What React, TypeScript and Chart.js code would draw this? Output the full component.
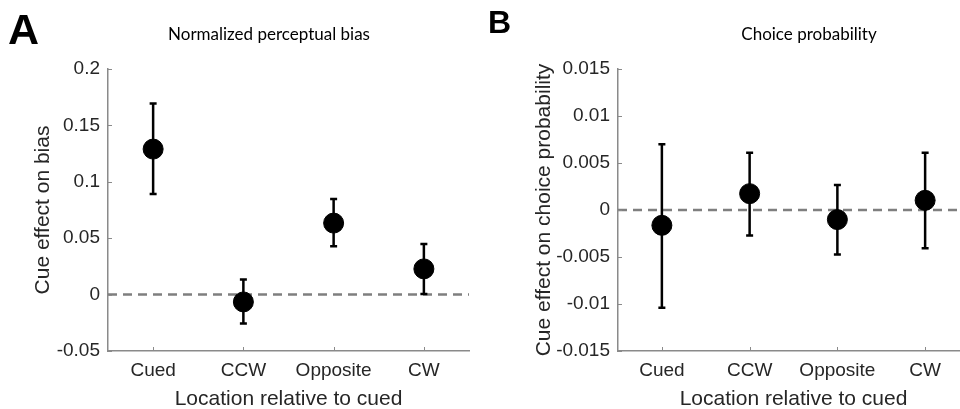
import React, { useEffect, useRef } from "react";
import { Chart, registerables } from "chart.js";

Chart.register(...registerables);

// Locations relative to the cued position
const locations = ["Cued", "CCW", "Opposite", "CW"];

// Panel A: cue effect on normalized perceptual bias (mean and error-bar ends)
const biasMean = [0.129, -0.0065, 0.0634, 0.0228];
const biasUpper = [0.1695, 0.0133, 0.0847, 0.0448];
const biasLower = [0.0892, -0.0257, 0.0428, 0.0005];
const biasTicks = [-0.05, 0, 0.05, 0.1, 0.15, 0.2];

// Panel B: cue effect on choice probability (mean and error-bar ends)
const cpMean = [-0.00163, 0.00174, -0.00102, 0.00103];
const cpUpper = [0.007, 0.0061, 0.00266, 0.0061];
const cpLower = [-0.0104, -0.00272, -0.00474, -0.00407];
const cpTicks = [-0.015, -0.01, -0.005, 0, 0.005, 0.01, 0.015];

const SANS = '"Liberation Sans", Arial, sans-serif';
const TITLE_FONT = 'Lato, "Open Sans", sans-serif';
const AXIS_COLOR = "#8a8a8a";
const TEXT_COLOR = "#262626";
const CANVAS_H = 412;

type Panel = {
  letter: string;
  letterSize: number;
  letterBaseline: number;
  title: string;
  titleX: number;
  yTitle: string;
  yTitlePad: number;
  yAxisWidth: number;
  padRight: number;
  width: number;
  left: number;
  mean: number[];
  upper: number[];
  lower: number[];
  ticks: number[];
};

const panels: Panel[] = [
  {
    letter: "A",
    letterSize: 43,
    letterBaseline: 43.5,
    title: "Normalized perceptual bias",
    titleX: 269,
    yTitle: "Cue effect on bias",
    yTitlePad: 31,
    yAxisWidth: 108,
    padRight: 7,
    width: 480,
    left: 0,
    mean: biasMean,
    upper: biasUpper,
    lower: biasLower,
    ticks: biasTicks,
  },
  {
    letter: "B",
    letterSize: 32,
    letterBaseline: 33,
    title: "Choice probability",
    titleX: 329,
    yTitle: "Cue effect on choice probability",
    yTitlePad: 52,
    yAxisWidth: 138,
    padRight: 8,
    width: 500,
    left: 480,
    mean: cpMean,
    upper: cpUpper,
    lower: cpLower,
    ticks: cpTicks,
  },
];

function decorations(p: Panel) {
  return {
    id: "panelDecorations",
    beforeDatasetsDraw(chart: any) {
      const { ctx, chartArea } = chart;
      const xs = chart.scales.x;
      const ys = chart.scales.y;
      ctx.save();
      // dashed zero reference line
      const y0 = ys.getPixelForValue(0);
      ctx.strokeStyle = "#7f7f7f";
      ctx.lineWidth = 2.5;
      ctx.setLineDash([9, 6]);
      ctx.beginPath();
      ctx.moveTo(chartArea.left, y0);
      ctx.lineTo(chartArea.right, y0);
      ctx.stroke();
      ctx.setLineDash([]);
      // error bars with caps
      ctx.strokeStyle = "#000";
      ctx.lineWidth = 2.5;
      p.mean.forEach((_, i) => {
        const x = xs.getPixelForValue(i);
        const yu = ys.getPixelForValue(p.upper[i]);
        const yl = ys.getPixelForValue(p.lower[i]);
        ctx.beginPath();
        ctx.moveTo(x, yu);
        ctx.lineTo(x, yl);
        ctx.moveTo(x - 3.5, yu);
        ctx.lineTo(x + 3.5, yu);
        ctx.moveTo(x - 3.5, yl);
        ctx.lineTo(x + 3.5, yl);
        ctx.stroke();
      });
      ctx.restore();
    },
    afterDraw(chart: any) {
      const { ctx, chartArea } = chart;
      const xs = chart.scales.x;
      const ys = chart.scales.y;
      ctx.save();
      // inward tick marks
      ctx.strokeStyle = AXIS_COLOR;
      ctx.lineWidth = 1;
      ctx.beginPath();
      p.ticks.forEach((v) => {
        const y = Math.round(ys.getPixelForValue(v)) + 0.5;
        ctx.moveTo(chartArea.left, y);
        ctx.lineTo(chartArea.left + 4, y);
      });
      locations.forEach((_, i) => {
        const x = Math.round(xs.getPixelForValue(i)) + 0.5;
        ctx.moveTo(x, chartArea.bottom);
        ctx.lineTo(x, chartArea.bottom - 4);
      });
      ctx.stroke();
      // panel letter and title
      ctx.fillStyle = "#000";
      ctx.textBaseline = "alphabetic";
      ctx.textAlign = "left";
      ctx.font = `bold ${p.letterSize}px ${SANS}`;
      ctx.fillText(p.letter, 8, p.letterBaseline);
      ctx.textAlign = "center";
      ctx.font = `17px ${TITLE_FONT}`;
      ctx.fillText(p.title, p.titleX, 39.5);
      ctx.restore();
    },
  };
}

function makeChart(canvas: HTMLCanvasElement, p: Panel) {
  return new Chart(canvas, {
    type: "line",
    data: {
      labels: locations,
      datasets: [
        {
          data: p.mean,
          showLine: false,
          pointRadius: 10,
          pointHoverRadius: 10,
          pointBackgroundColor: "#000",
          pointBorderColor: "#000",
          pointBorderWidth: 1,
        },
      ],
    },
    options: {
      responsive: false,
      animation: false,
      events: [],
      layout: { padding: { top: 69, right: p.padRight, bottom: 0, left: 0 } },
      plugins: {
        legend: { display: false },
        tooltip: { enabled: false },
        title: { display: false },
      },
      scales: {
        x: {
          type: "category",
          offset: true,
          grid: { display: false, drawTicks: false },
          border: { display: true, color: AXIS_COLOR, width: 1.5 },
          ticks: {
            color: TEXT_COLOR,
            font: { family: SANS, size: 19 },
            padding: 8,
            maxRotation: 0,
            autoSkip: false,
          },
          title: {
            display: true,
            text: "Location relative to cued",
            color: TEXT_COLOR,
            font: { family: SANS, size: 21 },
            padding: { top: 0, bottom: 0 },
          },
          afterFit: (s: any) => {
            s.height = CANVAS_H - 351;
          },
        },
        y: {
          type: "linear",
          min: p.ticks[0],
          max: p.ticks[p.ticks.length - 1],
          grid: { display: false, drawTicks: false },
          border: { display: true, color: AXIS_COLOR, width: 1.5 },
          ticks: {
            color: TEXT_COLOR,
            font: { family: SANS, size: 19 },
            padding: 8,
            callback: (v: any) => String(v),
          },
          afterBuildTicks: (s: any) => {
            s.ticks = p.ticks.map((v) => ({ value: v }));
          },
          title: {
            display: true,
            text: p.yTitle,
            color: TEXT_COLOR,
            font: { family: SANS, size: 21 },
            padding: { top: p.yTitlePad, bottom: 0 },
          },
          afterFit: (s: any) => {
            s.width = p.yAxisWidth;
          },
        },
      },
    } as any,
    plugins: [decorations(p)],
  });
}

function PanelChart({ p }: { p: Panel }) {
  const ref = useRef<HTMLCanvasElement | null>(null);
  useEffect(() => {
    if (!ref.current) return;
    const chart = makeChart(ref.current, p);
    return () => chart.destroy();
  }, [p]);
  return (
    <canvas
      ref={ref}
      width={p.width}
      height={CANVAS_H}
      style={{
        position: "absolute",
        left: p.left,
        top: 0,
        width: p.width,
        height: CANVAS_H,
      }}
    />
  );
}

export default function App() {
  return (
    <div
      style={{
        position: "fixed",
        left: 0,
        top: 0,
        width: 960,
        height: 409,
        overflow: "hidden",
        background: "#fff",
      }}
    >
      {panels.map((p) => (
        <PanelChart key={p.letter} p={p} />
      ))}
    </div>
  );
}
